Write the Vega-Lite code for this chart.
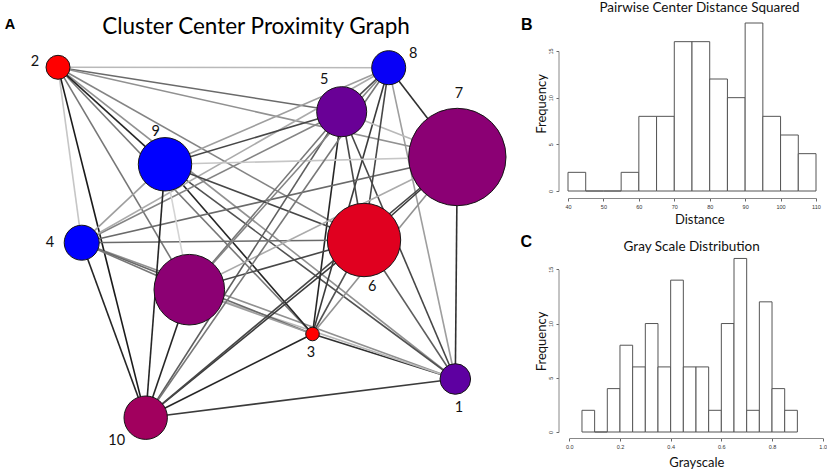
{
  "$schema": "https://vega.github.io/schema/vega-lite/v6.json",
  "padding": 0,
  "background": "white",
  "config": {
    "view": {"stroke": null},
    "axis": {"grid": false}
  },
  "datasets": {
    "nodes": [
      {"id": "1", "label": "1", "x": 455.3, "y": 378, "weight": 234, "hue": 0.37, "lx": 459, "ly": 407.3},
      {"id": "2", "label": "2", "x": 58, "y": 66.3, "weight": 144, "hue": 1, "lx": 35, "ly": 61},
      {"id": "3", "label": "3", "x": 312.5, "y": 333, "weight": 46, "hue": 1, "lx": 311, "ly": 351.7},
      {"id": "4", "label": "4", "x": 81.7, "y": 241.7, "weight": 306, "hue": 0, "lx": 50, "ly": 242.3},
      {"id": "5", "label": "5", "x": 341.7, "y": 110.7, "weight": 625, "hue": 0.41, "lx": 324.3, "ly": 79.3},
      {"id": "6", "label": "6", "x": 364, "y": 239, "weight": 1347, "hue": 0.88, "lx": 372.3, "ly": 285.7},
      {"id": "7", "label": "7", "x": 457.3, "y": 156, "weight": 2372, "hue": 0.545, "lx": 459, "ly": 93.3},
      {"id": "8", "label": "8", "x": 388.7, "y": 66.7, "weight": 289, "hue": 0.03, "lx": 413.3, "ly": 53.3},
      {"id": "9", "label": "9", "x": 165, "y": 163.3, "weight": 713, "hue": 0, "lx": 155.7, "ly": 131},
      {"id": "10", "label": "10", "x": 145.7, "y": 416.7, "weight": 471, "hue": 0.63, "lx": 116.7, "ly": 440},
      {"id": "11", "label": "", "x": 189.3, "y": 288.7, "weight": 1246, "hue": 0.55, "lx": 189.3, "ly": 288.7}
    ],
    "edges": [
      {"s": "1", "t": "2", "gray": 0.6},
      {"s": "1", "t": "3", "gray": 0.2},
      {"s": "1", "t": "4", "gray": 0.6},
      {"s": "1", "t": "5", "gray": 0.3},
      {"s": "1", "t": "6", "gray": 0.4},
      {"s": "1", "t": "7", "gray": 0.2},
      {"s": "1", "t": "8", "gray": 0.65},
      {"s": "1", "t": "9", "gray": 0.35},
      {"s": "1", "t": "10", "gray": 0.25},
      {"s": "1", "t": "11", "gray": 0.75},
      {"s": "2", "t": "3", "gray": 0.5},
      {"s": "2", "t": "4", "gray": 0.8},
      {"s": "2", "t": "5", "gray": 0.45},
      {"s": "2", "t": "6", "gray": 0.55},
      {"s": "2", "t": "7", "gray": 0.6},
      {"s": "2", "t": "8", "gray": 0.75},
      {"s": "2", "t": "9", "gray": 0.15},
      {"s": "2", "t": "10", "gray": 0.1},
      {"s": "2", "t": "11", "gray": 0.5},
      {"s": "3", "t": "4", "gray": 0.45},
      {"s": "3", "t": "5", "gray": 0.15},
      {"s": "3", "t": "6", "gray": 0.35},
      {"s": "3", "t": "7", "gray": 0.6},
      {"s": "3", "t": "8", "gray": 0.25},
      {"s": "3", "t": "9", "gray": 0.15},
      {"s": "3", "t": "10", "gray": 0.15},
      {"s": "3", "t": "11", "gray": 0.65},
      {"s": "4", "t": "5", "gray": 0.55},
      {"s": "4", "t": "6", "gray": 0.45},
      {"s": "4", "t": "7", "gray": 0.45},
      {"s": "4", "t": "8", "gray": 0.7},
      {"s": "4", "t": "9", "gray": 0.65},
      {"s": "4", "t": "10", "gray": 0.15},
      {"s": "4", "t": "11", "gray": 0.5},
      {"s": "5", "t": "6", "gray": 0.3},
      {"s": "5", "t": "7", "gray": 0.75},
      {"s": "5", "t": "8", "gray": 0.35},
      {"s": "5", "t": "9", "gray": 0.3},
      {"s": "5", "t": "10", "gray": 0.4},
      {"s": "5", "t": "11", "gray": 0.5},
      {"s": "6", "t": "7", "gray": 0.25},
      {"s": "6", "t": "8", "gray": 0.3},
      {"s": "6", "t": "9", "gray": 0.3},
      {"s": "6", "t": "10", "gray": 0.25},
      {"s": "6", "t": "11", "gray": 0.3},
      {"s": "7", "t": "8", "gray": 0.2},
      {"s": "7", "t": "9", "gray": 0.8},
      {"s": "7", "t": "10", "gray": 0.3},
      {"s": "7", "t": "11", "gray": 0.7},
      {"s": "8", "t": "9", "gray": 0.65},
      {"s": "8", "t": "10", "gray": 0.5},
      {"s": "8", "t": "11", "gray": 0.55},
      {"s": "9", "t": "10", "gray": 0.15},
      {"s": "9", "t": "11", "gray": 0.85},
      {"s": "10", "t": "11", "gray": 0.15}
    ],
    "distance": [
      {"bin_start": 40, "bin_end": 45, "count": 2},
      {"bin_start": 45, "bin_end": 50, "count": 0},
      {"bin_start": 50, "bin_end": 55, "count": 0},
      {"bin_start": 55, "bin_end": 60, "count": 2},
      {"bin_start": 60, "bin_end": 65, "count": 8},
      {"bin_start": 65, "bin_end": 70, "count": 8},
      {"bin_start": 70, "bin_end": 75, "count": 16},
      {"bin_start": 75, "bin_end": 80, "count": 16},
      {"bin_start": 80, "bin_end": 85, "count": 12},
      {"bin_start": 85, "bin_end": 90, "count": 10},
      {"bin_start": 90, "bin_end": 95, "count": 18},
      {"bin_start": 95, "bin_end": 100, "count": 8},
      {"bin_start": 100, "bin_end": 105, "count": 6},
      {"bin_start": 105, "bin_end": 110, "count": 4}
    ],
    "grayscale": [
      {"bin_start": 0.05, "bin_end": 0.1, "count": 2},
      {"bin_start": 0.1, "bin_end": 0.15, "count": 0},
      {"bin_start": 0.15, "bin_end": 0.2, "count": 4},
      {"bin_start": 0.2, "bin_end": 0.25, "count": 8},
      {"bin_start": 0.25, "bin_end": 0.3, "count": 6},
      {"bin_start": 0.3, "bin_end": 0.35, "count": 10},
      {"bin_start": 0.35, "bin_end": 0.4, "count": 6},
      {"bin_start": 0.4, "bin_end": 0.45, "count": 14},
      {"bin_start": 0.45, "bin_end": 0.5, "count": 6},
      {"bin_start": 0.5, "bin_end": 0.55, "count": 6},
      {"bin_start": 0.55, "bin_end": 0.6, "count": 2},
      {"bin_start": 0.6, "bin_end": 0.65, "count": 10},
      {"bin_start": 0.65, "bin_end": 0.7, "count": 16},
      {"bin_start": 0.7, "bin_end": 0.75, "count": 2},
      {"bin_start": 0.75, "bin_end": 0.8, "count": 12},
      {"bin_start": 0.8, "bin_end": 0.85, "count": 4},
      {"bin_start": 0.85, "bin_end": 0.9, "count": 2}
    ]
  },
  "hconcat": [
    {
      "width": 568,
      "height": 469,
      "title": {"text": "Cluster Center Proximity Graph", "font": "Lato", "fontSize": 22.5, "fontWeight": "normal", "color": "#000", "anchor": "middle", "dx": -28, "baseline": "alphabetic", "offset": -55.9},
      "layer": [
        {
          "data": {"name": "edges"},
          "transform": [
            {"lookup": "s", "from": {"data": {"name": "nodes"}, "key": "id", "fields": ["x", "y"]}, "as": ["sx", "sy"]},
            {"lookup": "t", "from": {"data": {"name": "nodes"}, "key": "id", "fields": ["x", "y"]}, "as": ["tx", "ty"]}
          ],
          "mark": {"type": "rule", "strokeWidth": 1.6},
          "encoding": {
            "x": {"field": "sx", "type": "quantitative", "scale": {"domain": [0, 568], "nice": false, "zero": false}, "axis": null},
            "y": {"field": "sy", "type": "quantitative", "scale": {"domain": [0, 469], "nice": false, "zero": false, "reverse": true}, "axis": null},
            "x2": {"field": "tx"},
            "y2": {"field": "ty"},
            "stroke": {"field": "gray", "type": "quantitative", "scale": {"domain": [0, 1], "range": ["#000000", "#ffffff"]}, "legend": null}
          }
        },
        {
          "data": {"name": "nodes"},
          "mark": {"type": "point", "shape": "circle", "filled": true, "opacity": 1, "stroke": "#151515", "strokeWidth": 1},
          "encoding": {
            "x": {"field": "x", "type": "quantitative", "scale": {"domain": [0, 568], "nice": false, "zero": false}, "axis": null},
            "y": {"field": "y", "type": "quantitative", "scale": {"domain": [0, 469], "nice": false, "zero": false, "reverse": true}, "axis": null},
            "size": {"field": "weight", "type": "quantitative", "scale": {"domain": [0, 2500], "range": [0, 10000]}, "legend": null},
            "fill": {"field": "hue", "type": "quantitative", "scale": {"domain": [0, 1], "range": ["#0000ff", "#ff0000"], "interpolate": "rgb"}, "legend": null}
          }
        },
        {
          "data": {"name": "nodes"},
          "transform": [{"filter": "datum.label != ''"}],
          "mark": {"type": "text", "font": "Lato", "fontSize": 14.5, "baseline": "middle", "align": "center", "color": "#111"},
          "encoding": {
            "x": {"field": "lx", "type": "quantitative"},
            "y": {"field": "ly", "type": "quantitative"},
            "text": {"field": "label"}
          }
        },
        {
          "data": {"values": [{"panel": "A"}]},
          "mark": {"type": "text", "font": "Liberation Sans", "fontWeight": "bold", "fontSize": 14.5, "baseline": "middle", "align": "center", "color": "#000"},
          "encoding": {
            "x": {"datum": 10},
            "y": {"datum": 24},
            "text": {"field": "panel"}
          }
        },
        {
          "data": {"values": [{"panel": "B"}]},
          "mark": {"type": "text", "font": "Liberation Sans", "fontWeight": "bold", "fontSize": 16, "baseline": "middle", "align": "center", "color": "#000"},
          "encoding": {
            "x": {"datum": 526.7},
            "y": {"datum": 24},
            "text": {"field": "panel"}
          }
        },
        {
          "data": {"values": [{"panel": "C"}]},
          "mark": {"type": "text", "font": "Liberation Sans", "fontWeight": "bold", "fontSize": 16, "baseline": "middle", "align": "center", "color": "#000"},
          "encoding": {
            "x": {"datum": 526.3},
            "y": {"datum": 240.7},
            "text": {"field": "panel"}
          }
        }
      ]
    },
    {
      "vconcat": [
        {
          "width": 248,
          "height": 190,
          "title": {"text": "Pairwise Center Distance Squared", "font": "Lato", "fontSize": 13.5, "fontWeight": "normal", "color": "#111", "anchor": "middle", "dx": 7.5, "baseline": "alphabetic", "offset": -24},
          "data": {"name": "distance"},
          "mark": {"type": "rect", "fill": "white", "stroke": "#555", "strokeWidth": 1},
          "encoding": {
            "x": {"field": "bin_start", "type": "quantitative", "scale": {"domain": [40, 110], "range": [0, 248], "nice": false, "zero": false},
              "axis": {"values": [40, 50, 60, 70, 80, 90, 100, 110], "format": "d", "offset": 7, "tickSize": 3, "tickColor": "#666", "domainColor": "#888", "labelFont": "Liberation Sans", "labelFontSize": 5.5, "labelColor": "#333", "labelPadding": 3, "labelFlush": false, "labelOverlap": false,
                "title": "Distance", "titleFont": "Lato", "titleFontSize": 13, "titleFontWeight": "normal", "titleColor": "#111", "titleX": 131.3, "titleY": 25.7, "titleBaseline": "alphabetic"}},
            "x2": {"field": "bin_end"},
            "y": {"field": "count", "type": "quantitative", "scale": {"domain": [0, 15], "range": [190, 50], "nice": false, "zero": true},
              "axis": {"values": [0, 5, 10, 15], "offset": 9.5, "tickSize": 2.5, "tickColor": "#666", "domainColor": "#888", "labelFont": "Liberation Sans", "labelFontSize": 5.5, "labelColor": "#333", "labelPadding": 3, "labelAngle": 270, "labelAlign": "center", "labelBaseline": "bottom", "labelFlush": false, "labelOverlap": false,
                "title": "Frequency", "titleFont": "Lato", "titleFontSize": 13, "titleFontWeight": "normal", "titleColor": "#111", "titleAngle": 270, "titleX": -13.3, "titleY": 102.5, "titleBaseline": "alphabetic", "titleAlign": "center"}},
            "y2": {"datum": 0}
          }
        },
        {
          "width": 255,
          "height": 241,
          "title": {"text": "Gray Scale Distribution", "font": "Lato", "fontSize": 13.5, "fontWeight": "normal", "color": "#111", "anchor": "middle", "dx": -3.8, "baseline": "alphabetic", "offset": -73.5},
          "data": {"name": "grayscale"},
          "mark": {"type": "rect", "fill": "white", "stroke": "#555", "strokeWidth": 1},
          "encoding": {
            "x": {"field": "bin_start", "type": "quantitative", "scale": {"domain": [0, 1], "range": [1.3, 254.7], "nice": false, "zero": false},
              "axis": {"values": [0, 0.2, 0.4, 0.6, 0.8, 1], "format": ".1f", "offset": 6, "tickSize": 3, "tickColor": "#666", "domainColor": "#888", "labelFont": "Liberation Sans", "labelFontSize": 5.5, "labelColor": "#333", "labelPadding": 3, "labelFlush": false, "labelOverlap": false,
                "title": "Grayscale", "titleFont": "Lato", "titleFontSize": 13, "titleFontWeight": "normal", "titleColor": "#111", "titleX": 128.3, "titleY": 28, "titleBaseline": "alphabetic"}},
            "x2": {"field": "bin_end"},
            "y": {"field": "count", "type": "quantitative", "scale": {"domain": [0, 15], "range": [241, 78.3], "nice": false, "zero": true},
              "axis": {"values": [0, 5, 10, 15], "offset": 9.5, "tickSize": 2.5, "tickColor": "#666", "domainColor": "#888", "labelFont": "Liberation Sans", "labelFontSize": 5.5, "labelColor": "#333", "labelPadding": 3, "labelAngle": 270, "labelAlign": "center", "labelBaseline": "bottom", "labelFlush": false, "labelOverlap": false,
                "title": "Frequency", "titleFont": "Lato", "titleFontSize": 13, "titleFontWeight": "normal", "titleColor": "#111", "titleAngle": 270, "titleX": -13.3, "titleY": 150, "titleBaseline": "alphabetic", "titleAlign": "center"}},
            "y2": {"datum": 0}
          }
        }
      ],
      "spacing": 0,
      "bounds": "flush",
      "align": "each"
    }
  ],
  "spacing": 0,
  "bounds": "flush",
  "align": "each"
}
